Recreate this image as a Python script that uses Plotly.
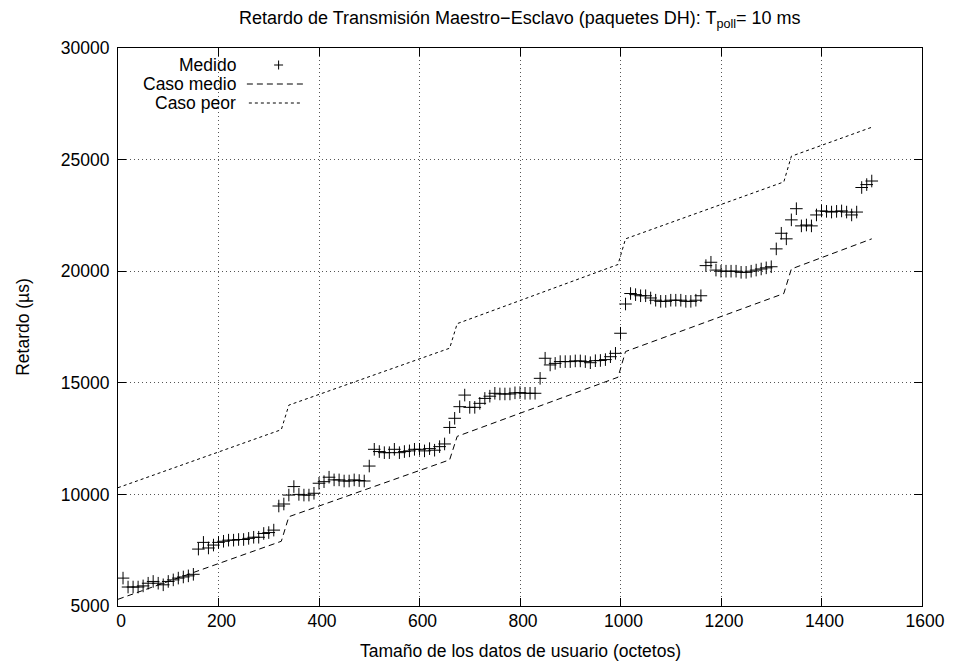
import plotly.graph_objects as go

# Measured data (octetos, µs)
tam = list(range(10, 1510, 10))
medido = [
    6250, 5850, 5850, 5850, 5900, 6020, 6100, 6020, 5950, 6100,
    6170, 6250, 6300, 6350, 6420, 7550, 7850, 7600, 7730, 7850,
    7900, 7950, 7950, 7980, 7980, 8030, 8080, 8080, 8250, 8290,
    8400, 9480, 9570, 9970, 10350, 10000, 9970, 9970, 10050, 10500,
    10570, 10770, 10650, 10650, 10600, 10600, 10650, 10620, 10600, 11270,
    12020, 11920, 11870, 11870, 12020, 11870, 11920, 11950, 12020, 12020,
    11950, 12050, 11980, 12140, 12260, 13000, 13410, 13930, 14450, 13900,
    13900, 14080, 14300, 14400, 14530, 14500, 14500, 14500, 14550, 14560,
    14530, 14530, 14530, 15200, 16100, 15800, 15870, 15950, 15950, 15950,
    15980, 15980, 15950, 15900, 15990, 16000, 16040, 16170, 16320, 17220,
    18530, 19000, 18950, 18900, 18900, 18800, 18700, 18650, 18650, 18700,
    18700, 18700, 18650, 18650, 18700, 18900, 20250, 20400, 20050, 20000,
    20000, 20000, 20000, 19950, 19950, 20000, 20050, 20100, 20150, 20200,
    21000, 21700, 21450, 22300, 22800, 22030, 22070, 22030, 22520, 22700,
    22680, 22650, 22680, 22700, 22650, 22520, 22650, 23750, 23880, 24040,
]

# Theoretical curves (vertices)
medio_x = [0, 325, 340, 660, 675, 995, 1010, 1325, 1340, 1500]
medio_y = [5300, 7900, 9000, 11550, 12600, 15250, 16400, 19000, 20100, 21450]
peor_x = [0, 325, 340, 660, 675, 995, 1010, 1325, 1340, 1500]
peor_y = [10300, 12900, 14000, 16550, 17650, 20300, 21450, 24000, 25150, 26450]

x_ticks = [0, 200, 400, 600, 800, 1000, 1200, 1400, 1600]
y_ticks = [5000, 10000, 15000, 20000, 25000, 30000]

FONT = "Liberation Sans, Arial, Helvetica, sans-serif"
FS = 17.5

fig = go.Figure()
fig.add_trace(go.Scatter(x=medio_x, y=medio_y, mode="lines", name="Caso medio",
                         line=dict(color="black", width=1, dash="6px,4px")))
fig.add_trace(go.Scatter(x=peor_x, y=peor_y, mode="lines", name="Caso peor",
                         line=dict(color="black", width=1, dash="3px,3px")))
fig.add_trace(go.Scatter(x=tam, y=medido, mode="markers", name="Medido",
                         marker=dict(symbol="cross-thin", size=9, color="black",
                                     line=dict(color="black", width=1))))

# target page-pixel positions of the plot frame (body has an 8px margin)
OFF = 8
L, R, T, B = 118, 929, 48, 606
W, H = 949, 660
pw, ph = R - L, B - T


def px(x):
    return (x - L) / pw


def py(y):
    return (B - y) / ph


axis_common = dict(
    showline=True, linecolor="black", linewidth=1, mirror="ticks",
    ticks="inside", ticklen=8, tickcolor="black", tickwidth=1,
    showgrid=True, gridcolor="#555", gridwidth=1, griddash="1px,3px",
    zeroline=False, tickfont=dict(family=FONT, size=FS, color="black"),
)

fig.update_layout(
    width=W, height=H,
    margin=dict(l=L - OFF, r=W - (R - OFF), t=T - OFF, b=H - (B - OFF), pad=0),
    paper_bgcolor="white", plot_bgcolor="white",
    showlegend=False,
    font=dict(family=FONT, size=FS, color="black"),
    xaxis=dict(range=[0, 1600], tickvals=x_ticks, ticktext=[str(v) for v in x_ticks],
               ticklabelstandoff=-1, ticklabelshift=3, **axis_common),
    yaxis=dict(range=[5000, 30000], tickvals=y_ticks, ticktext=[str(v) for v in y_ticks],
               ticklabelstandoff=4, **axis_common),
)

# Title and axis titles as positioned annotations
fig.add_annotation(text="Retardo de Transmisión Maestro−Esclavo (paquetes DH): T<sub>poll</sub>= 10 ms",
                   xref="paper", yref="paper", x=px(523), y=py(20),
                   xanchor="center", yanchor="middle", showarrow=False,
                   font=dict(family=FONT, size=18, color="black"))
fig.add_annotation(text="Tamaño de los datos de usuario (octetos)",
                   xref="paper", yref="paper", x=px(523.5), y=py(651),
                   xanchor="center", yanchor="middle", showarrow=False,
                   font=dict(family=FONT, size=FS, color="black"))
fig.add_annotation(text="Retardo (µs)", textangle=-90,
                   xref="paper", yref="paper", x=px(22), y=py(327),
                   xanchor="center", yanchor="middle", showarrow=False,
                   font=dict(family=FONT, size=FS, color="black"))

# Manual gnuplot-style legend (text right-aligned, sample on the right)
legend_rows = [("Medido", 65), ("Caso medio", 84), ("Caso peor", 103)]
for text, yy in legend_rows:
    fig.add_annotation(text=text, xref="paper", yref="paper", x=px(239), y=py(yy),
                       xanchor="right", yanchor="middle", showarrow=False,
                       font=dict(family=FONT, size=FS, color="black"))
# '+' sample
fig.add_shape(type="line", xref="paper", yref="paper", x0=px(275.5), x1=px(284.5),
              y0=py(65), y1=py(65), line=dict(color="black", width=1))
fig.add_shape(type="line", xref="paper", yref="paper", x0=px(280), x1=px(280),
              y0=py(60.5), y1=py(69.5), line=dict(color="black", width=1))
fig.add_shape(type="line", xref="paper", yref="paper", x0=px(248), x1=px(307),
              y0=py(84), y1=py(84), line=dict(color="black", width=1, dash="6px,4px"))
fig.add_shape(type="line", xref="paper", yref="paper", x0=px(250), x1=px(303),
              y0=py(103), y1=py(103), line=dict(color="black", width=1, dash="3px,3px"))

fig.write_html("out.html")
